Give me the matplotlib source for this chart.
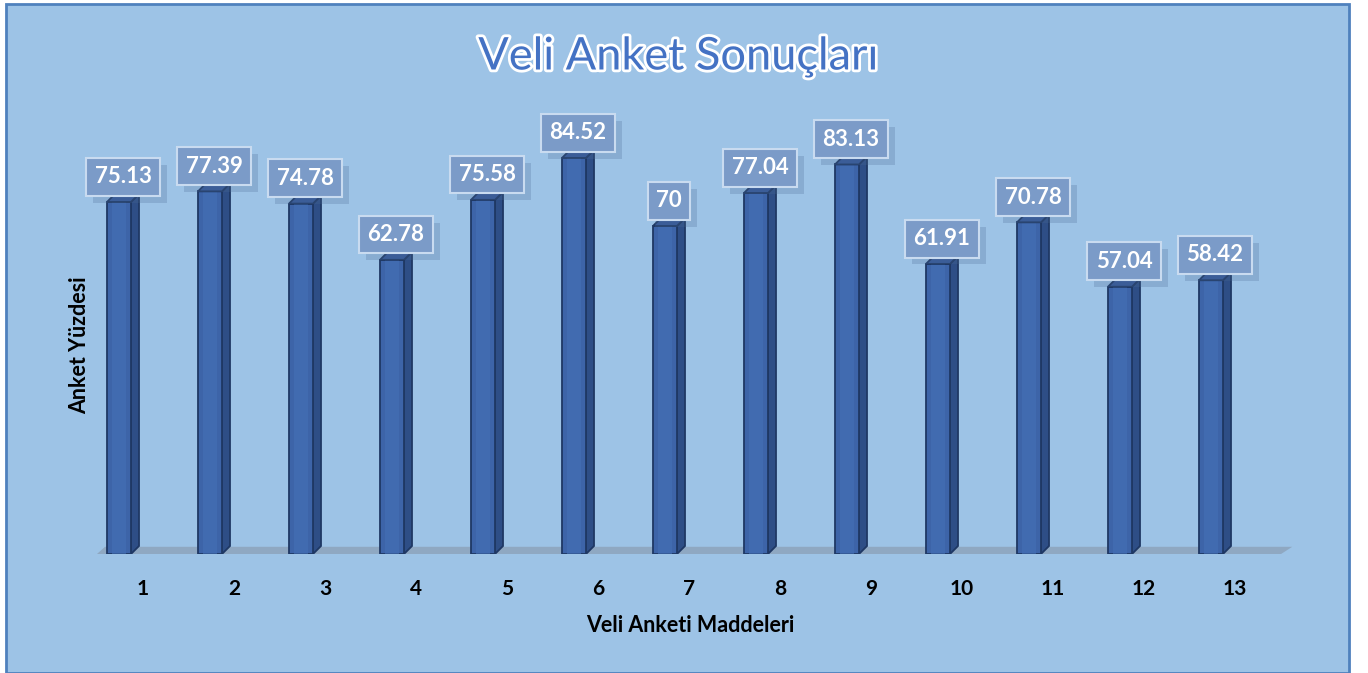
import numpy as np
import matplotlib.pyplot as plt
import matplotlib.patheffects as pe
from matplotlib.patches import Polygon, Rectangle

# -------------------------------- Data --------------------------------
items = np.arange(1, 14)
tick_labels = [str(i) for i in items]
scores = [75.13, 77.39, 74.78, 62.78, 75.58, 84.52, 70.0,
          77.04, 83.13, 61.91, 70.78, 57.04, 58.42]
value_labels = ["75.13", "77.39", "74.78", "62.78", "75.58", "84.52", "70",
                "77.04", "83.13", "61.91", "70.78", "57.04", "58.42"]

TITLE = "Veli Anket Sonuçları"
X_LABEL = "Veli Anketi Maddeleri"
Y_LABEL = "Anket Yüzdesi"
# ----------------------------------------------------------------------

W, H = 1368, 673
BG = "#9DC3E6"
FRONT = "#3D64A8"
SIDE = "#2E4E86"
TOP = "#36599A"
EDGE = "#1F3864"

plt.rcParams["font.family"] = ["Lato", "DejaVu Sans"]

fig = plt.figure(figsize=(W / 100, H / 100), dpi=100)
fig.patch.set_facecolor("white")

# chart panel (behind the axes)
panel = Rectangle((6 / W, 0), (1349 - 6) / W, (H - 4) / H, transform=fig.transFigure,
                  facecolor=BG, edgecolor="#4F81BD", linewidth=2, zorder=-10)
fig.patches.append(panel)

# axes: y=0 at pixel 554, 4.686 px per unit, category spacing 91 px
left_px, right_px, base_px = 60, 1300, 554
px_per_unit = 4.686
ymax = 100
ax = fig.add_axes([left_px / W, (H - base_px) / H, (right_px - left_px) / W,
                   ymax * px_per_unit / H])
ax.set_zorder(1)
ax.set_xlim(1 + (left_px - 119) / 91, 1 + (right_px - 119) / 91)
ax.set_ylim(0, ymax)
ax.set_facecolor("none")
for s in ax.spines.values():
    s.set_visible(False)
ax.set_yticks([])

bw = 24 / 91
dx = 8 / 91
dy = 8 / px_per_unit

# floor
floor = Polygon([(0.758, 0), (13.77, 0), (13.77 + dx * 1.4, dy * 0.9), (0.758 + dx, dy * 0.9)],
                closed=True, facecolor="#8FA8C2", edgecolor="none", zorder=1, clip_on=False)
ax.add_patch(floor)

# bars with depth
ax.bar(items, scores, width=bw, color=FRONT, edgecolor=EDGE, linewidth=1.3, zorder=3)
ax.bar(items, scores, width=bw * 0.55, color="#4570B6", edgecolor="none", zorder=3.1, alpha=0.6)
for x, v in zip(items, scores):
    x0, x1 = x - bw / 2, x + bw / 2
    side = Polygon([(x1, 0), (x1 + dx, dy), (x1 + dx, v + dy), (x1, v)], closed=True,
                   facecolor=SIDE, edgecolor=EDGE, linewidth=1.3, zorder=2.9)
    top = Polygon([(x0, v), (x1, v), (x1 + dx, v + dy), (x0 + dx, v + dy)], closed=True,
                  facecolor=TOP, edgecolor=EDGE, linewidth=1.3, zorder=3.2)
    ax.add_patch(side)
    ax.add_patch(top)

# value labels in boxes with a soft drop shadow
for x, v, lab in zip(items, scores, value_labels):
    t = ax.text(x + dx / 2, v + 5.4, lab, ha="center", va="center", fontsize=16,
                fontweight="bold", color="white", zorder=5,
                bbox=dict(boxstyle="square,pad=0.38", facecolor="#7B9BC8",
                          edgecolor="#C9DBF0", linewidth=1.5))
    t.get_bbox_patch().set_path_effects([
        pe.SimplePatchShadow(offset=(5, -5), shadow_rgbFace="#4a6a95", alpha=0.25),
        pe.Normal()])

# category labels, shifted right like the 3D view
ax.set_xticks(items + 0.265)
ax.set_xticklabels(tick_labels, fontsize=15, fontweight="bold")
ax.tick_params(axis="x", length=0, pad=18)

fig.text(690 / W, 1 - 625 / H, X_LABEL, ha="center", va="center",
         fontsize=15.5, fontweight="bold")
fig.text(80 / W, 1 - 345 / H, Y_LABEL, ha="center", va="center", rotation=90,
         fontsize=15.5, fontweight="bold")

fig.text(678 / W, 1 - 57 / H, TITLE, ha="center", va="center", fontsize=32.5,
         color="#4472C4",
         path_effects=[pe.withStroke(linewidth=4, foreground="white")])

fig.savefig("out.png", dpi=100, facecolor=fig.get_facecolor())
